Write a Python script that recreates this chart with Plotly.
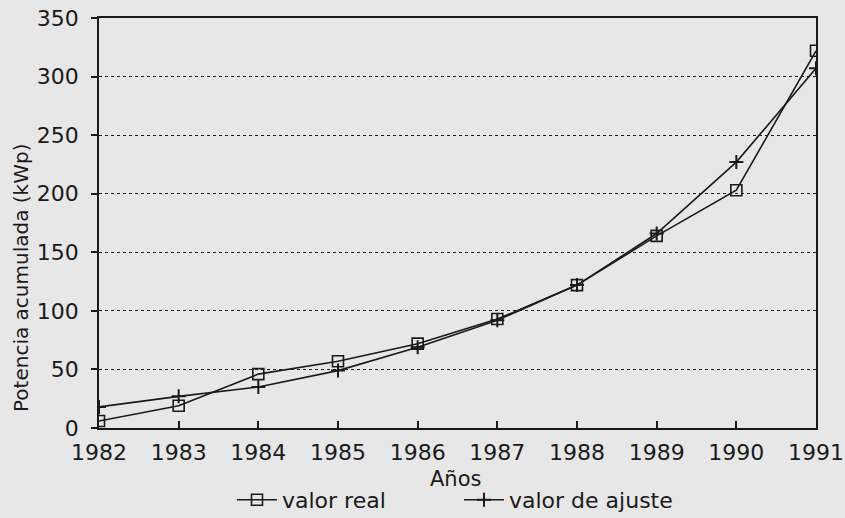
import plotly.graph_objects as go

years = [1982, 1983, 1984, 1985, 1986, 1987, 1988, 1989, 1990, 1991]
valor_real = [6, 19, 46, 57, 72, 93, 122, 164, 203, 322]
valor_ajuste = [18, 27, 35, 49, 69, 92, 122, 166, 227, 307]

FONT = "DejaVu Sans"
BG = "#e7e7e7"
INK = "#1a1a1a"

fig = go.Figure()
fig.add_trace(go.Scatter(
    x=years, y=valor_real, name="valor real", mode="lines+markers",
    line=dict(color=INK, width=1.6),
    marker=dict(symbol="square-open", size=11, color=INK, line=dict(width=1.6, color=INK)),
))
fig.add_trace(go.Scatter(
    x=years, y=valor_ajuste, name="valor de ajuste", mode="lines+markers",
    line=dict(color=INK, width=1.6),
    marker=dict(symbol="cross-thin", size=10, color=INK, line=dict(width=2, color=INK)),
))

fig.update_layout(
    width=845, height=518,
    margin=dict(l=99, r=29, t=18, b=90, autoexpand=False),
    paper_bgcolor=BG, plot_bgcolor=BG,
    font=dict(family=FONT, color=INK, size=20),
    showlegend=True,
    legend=dict(orientation="h", x=(232 - 99) / 717, xanchor="left",
                y=(428 - 500) / 410, yanchor="middle",
                bgcolor="rgba(0,0,0,0)", font=dict(size=22), itemwidth=40,
                entrywidth=172, entrywidthmode="pixels", tracegroupgap=0),
    xaxis=dict(
        range=[1982, 1991], tickmode="array", tickvals=years,
        ticktext=[str(y) for y in years],
        ticks="inside", ticklen=7, tickwidth=1.5, tickcolor=INK,
        showline=True, linecolor=INK, linewidth=1.6, mirror=True,
        showgrid=False, zeroline=False, automargin=False,
        tickfont=dict(size=22, family=FONT), ticklabelstandoff=4,
    ),
    yaxis=dict(
        range=[0, 350], tick0=0, dtick=50,
        ticks="outside", ticklen=6, tickwidth=1.5, tickcolor=INK,
        showline=True, linecolor=INK, linewidth=1.6, mirror=True,
        showgrid=True, gridcolor=INK, gridwidth=1.2, griddash="dot",
        zeroline=False, automargin=False,
        tickfont=dict(size=22, family=FONT), ticklabelstandoff=8,
    ),
    annotations=[
        dict(text="Potencia acumulada (kWp)", xref="paper", yref="paper",
             x=(21 - 99) / 717, y=(428 - 278) / 410, textangle=-90,
             xanchor="center", yanchor="middle", showarrow=False,
             font=dict(size=20, family=FONT, color=INK)),
        dict(text="Años", xref="paper", yref="paper",
             x=(455 - 99) / 717, y=(428 - 479) / 410,
             xanchor="center", yanchor="middle", showarrow=False,
             font=dict(size=21, family=FONT, color=INK)),
    ],
)

fig.write_html("out.html", config={"displayModeBar": False},
               post_script="document.body.style.margin='0px';")
